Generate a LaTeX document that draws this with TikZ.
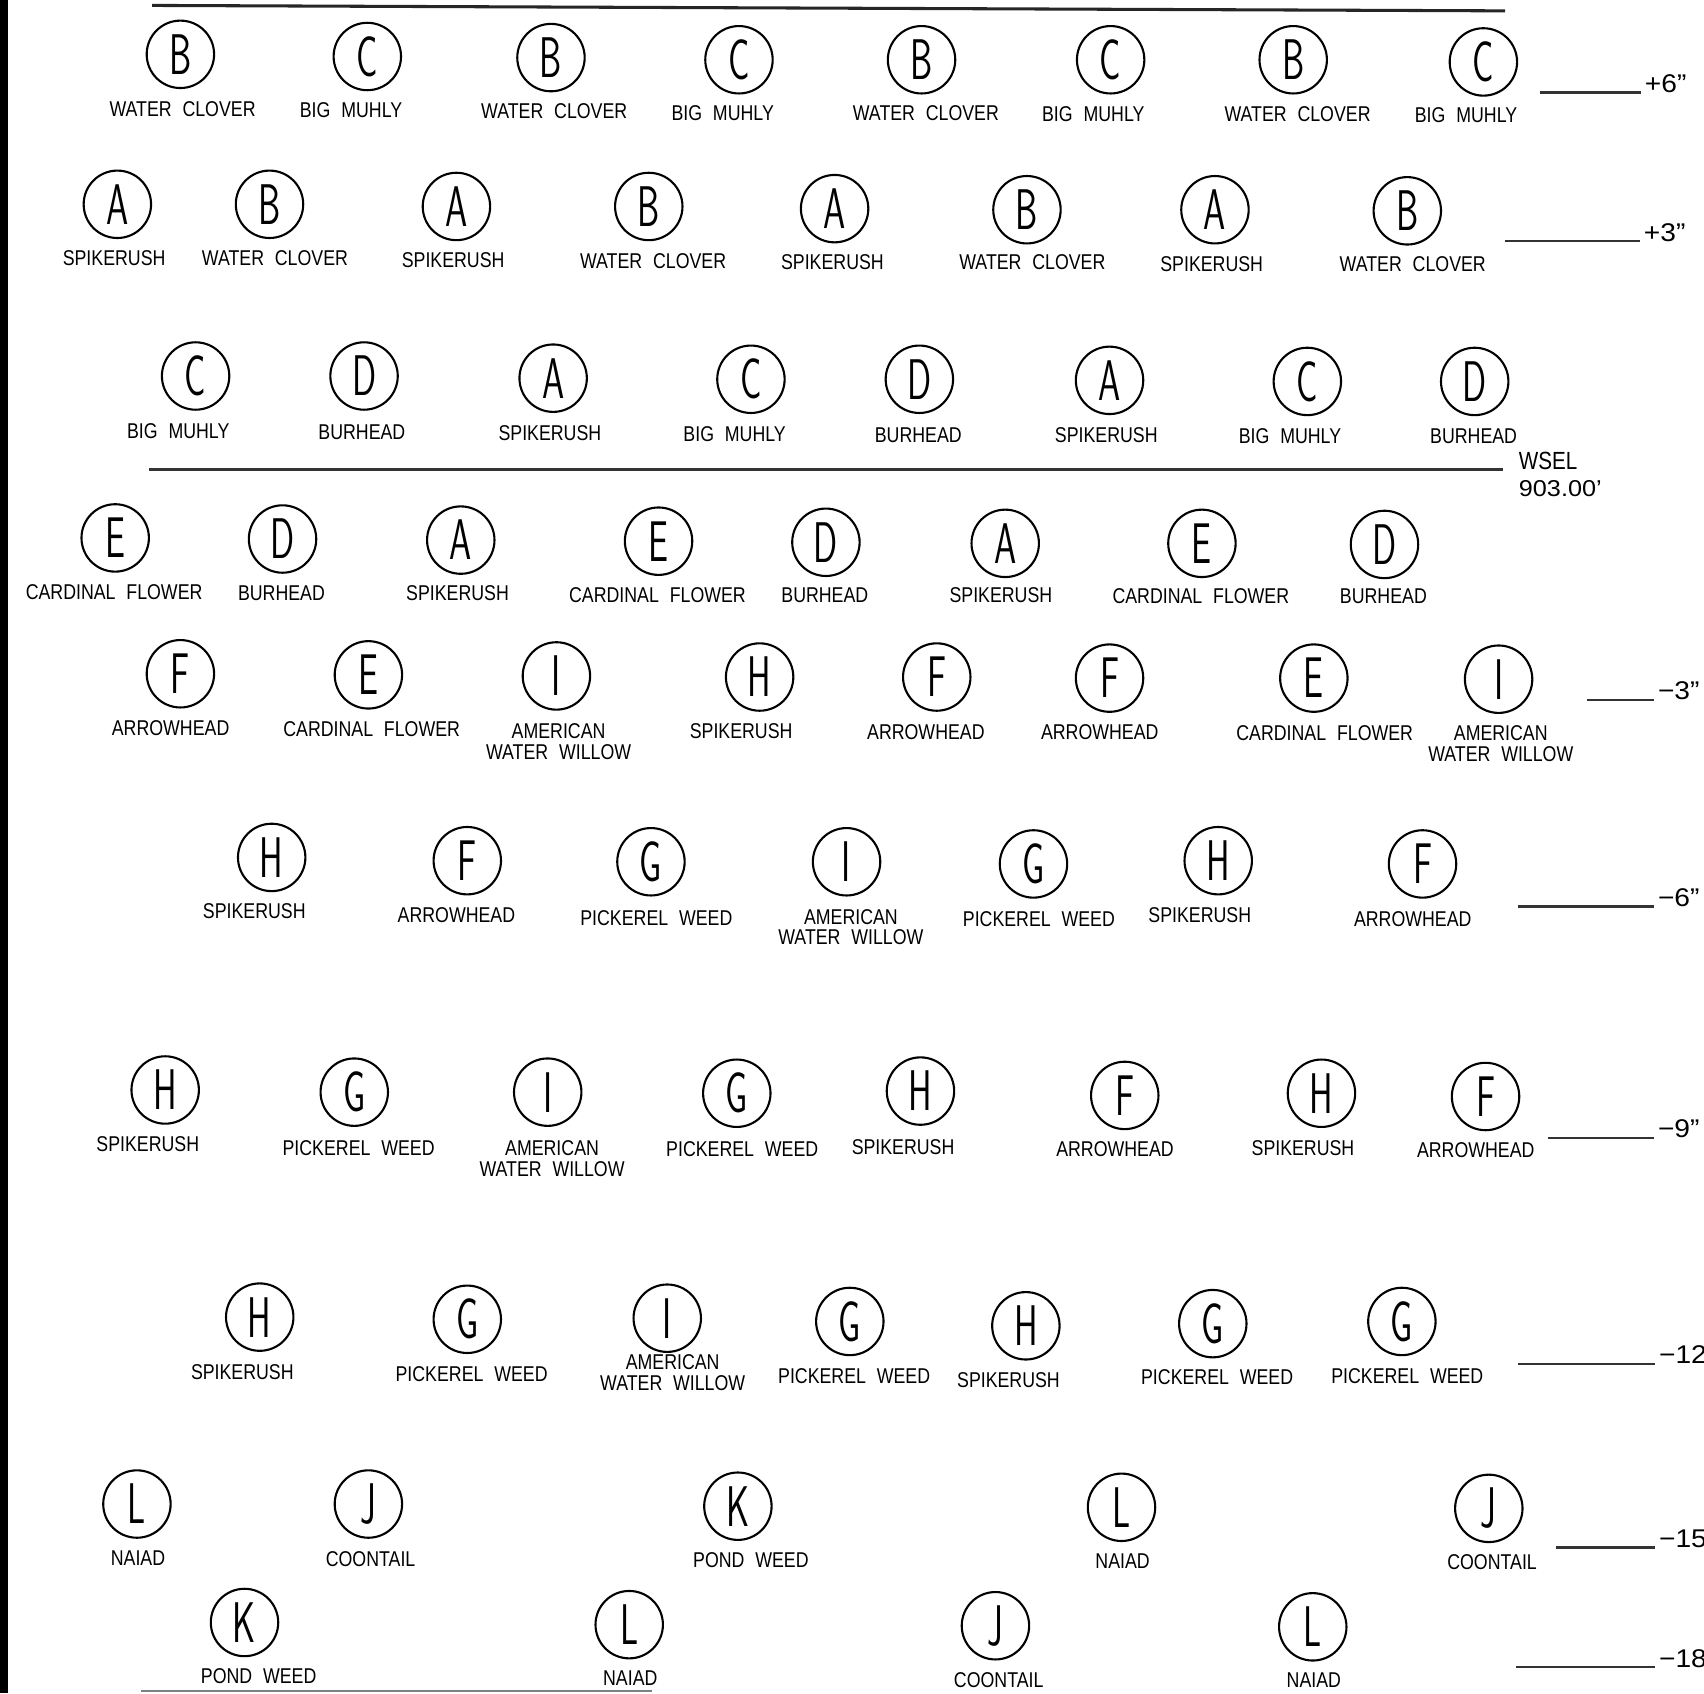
\documentclass[tikz,border=0pt]{standalone}
\usepackage{fontspec}
\setmainfont{Liberation Sans}
\newfontfamily\symfont[FakeStretch=0.62]{Latin Modern Sans}
\newfontfamily\cadfont[FakeStretch=0.83,WordSpace=2.2]{Liberation Sans}
\newfontfamily\levfont[FakeStretch=1.1]{Liberation Sans}

\begin{document}
\begin{tikzpicture}[x=0.01cm,y=-0.01cm,
  sym/.style={circle,draw,line width=0.55pt,minimum size=0.62cm,inner sep=0pt,
    font=\symfont\fontsize{15}{15}\selectfont},
  lbl/.style={anchor=north,inner sep=0pt,align=center,
    font=\cadfont\fontsize{5.6}{5.4}\selectfont},
  levtxt/.style={anchor=base west,inner sep=0pt,font=\levfont\fontsize{6.7}{8}\selectfont},
  lev/.style={line width=0.65pt,black!80}]
\useasboundingbox (0,0) rectangle (1568,1558);
\clip (0,0) rectangle (1568,1558);
% ---- sheet edge and grade lines ----
\fill (0,0) rectangle (7,1558);
\draw[line width=0.8pt,black!85] (140,5) -- (1385,10);
\draw[line width=0.5pt,black!50] (130,1556) -- (600,1556);
% ---- planting symbols: x/y/letter/label x/label y/name ----
\foreach \x/\y/\s/\lx/\ly/\t [count=\i] in {
  166/50/B/168/100/WATER CLOVER, 338/52/C/323/101/BIG MUHLY,
  507/53/B/510/102/WATER CLOVER, 680/55/C/665/103/BIG MUHLY,
  848/55/B/852/103/WATER CLOVER, 1022/55/C/1006/104/BIG MUHLY,
  1190/55/B/1194/104/WATER CLOVER, 1365/57/C/1349/105/BIG MUHLY,
  % +3" row
  108/188/A/105/237/SPIKERUSH, 248/188/B/253/237/WATER CLOVER,
  420/190/A/417/239/SPIKERUSH, 597/190/B/601/240/WATER CLOVER,
  768/192/A/766/241/SPIKERUSH, 945/193/B/950/241/WATER CLOVER,
  1118/193/A/1115/242/SPIKERUSH, 1295/194/B/1300/242/WATER CLOVER,
  % above WSEL
  180/346/C/164/396/BIG MUHLY, 335/346/D/333/397/BURHEAD,
  509/348/A/506/398/SPIKERUSH, 691/349/C/676/399/BIG MUHLY,
  846/349/D/845/400/BURHEAD, 1021/350/A/1018/400/SPIKERUSH,
  1203/351/C/1187/401/BIG MUHLY, 1357/351/D/1356/401/BURHEAD,
  % below WSEL
  106/495/E/105/544/CARDINAL FLOWER, 260/496/D/259/545/BURHEAD,
  424/497/A/421/545/SPIKERUSH, 606/498/E/605/547/CARDINAL FLOWER,
  760/499/D/759/547/BURHEAD, 925/500/A/921/547/SPIKERUSH,
  1106/500/E/1105/548/CARDINAL FLOWER, 1274/501/D/1273/548/BURHEAD,
  % -3" row
  166/620/F/157/669/ARROWHEAD, 339/621/E/342/670/CARDINAL FLOWER,
  512/622/I/514/672/AMERICAN\\WATER WILLOW, 699/623/H/682/672/SPIKERUSH,
  862/623/F/852/673/ARROWHEAD, 1021/624/F/1012/673/ARROWHEAD,
  1209/624/E/1219/674/CARDINAL FLOWER, 1379/625/I/1381/674/AMERICAN\\WATER WILLOW,
  % -6" row
  250/789/H/234/838/SPIKERUSH, 430/792/F/420/841/ARROWHEAD,
  599/793/G/604/844/PICKEREL WEED, 779/793/I/783/843/AMERICAN\\WATER WILLOW,
  951/795/G/956/845/PICKEREL WEED, 1121/792/H/1104/841/SPIKERUSH,
  1309/795/F/1300/845/ARROWHEAD,
  % -9" row
  152/1003/H/136/1052/SPIKERUSH, 326/1005/G/330/1056/PICKEREL WEED,
  504/1005/I/508/1056/AMERICAN\\WATER WILLOW, 678/1006/G/683/1057/PICKEREL WEED,
  847/1004/H/831/1055/SPIKERUSH, 1035/1008/F/1026/1057/ARROWHEAD,
  1216/1006/H/1199/1056/SPIKERUSH, 1367/1009/F/1358/1058/ARROWHEAD,
  % -12" row
  239/1212/H/223/1262/SPIKERUSH, 430/1214/G/434/1264/PICKEREL WEED,
  614/1213/I/619/1253/AMERICAN\\WATER WILLOW, 782/1216/G/786/1266/PICKEREL WEED,
  944/1220/H/928/1269/SPIKERUSH, 1116/1218/G/1120/1267/PICKEREL WEED,
  1290/1216/G/1295/1266/PICKEREL WEED,
  % -15" row
  126/1384/L/127/1433/NAIAD, 339/1384/J/341/1434/COONTAIL,
  679/1386/K/691/1435/POND WEED, 1032/1387/L/1033/1436/NAIAD,
  1370/1388/J/1373/1437/COONTAIL,
  % -18" row
  225/1493/K/238/1542/POND WEED, 579/1495/L/580/1544/NAIAD,
  916/1496/J/919/1545/COONTAIL, 1208/1497/L/1209/1546/NAIAD}
{
  \node[sym] (s\i) at (\x,\y) {\s};
  \node[lbl] (t\i) at (\lx,\ly-7) {\t};
}
% ---- water surface ----
\node[levtxt,font=\cadfont\fontsize{6.5}{8}\selectfont] (wsel) at (1397,432) {WSEL};
\node[levtxt,font=\levfont\fontsize{6.0}{8}\selectfont] (elev) at (1397,457) {903.00’};
\draw[lev] (137,432) -- (1383,432);
% ---- depth marks ----
\foreach \xa/\xb/\y/\t [count=\k] in {1417/1513/85/+6”, 1385/1512/222/+3”,
  1460/1525/644/−3”, 1397/1525/834/−6”, 1424/1525/1047/−9”,
  1397/1526/1255/−12, 1432/1526/1424/−15, 1395/1526/1534/−18}
{
  \node[levtxt] (lv\k) at (\xb,\y) {\t};
  \coordinate (lb\k) at (\xa,\y);
  \draw[lev] (lb\k) -- ([xshift=-0.03cm]lv\k.base west);
}
\end{tikzpicture}
\end{document}
